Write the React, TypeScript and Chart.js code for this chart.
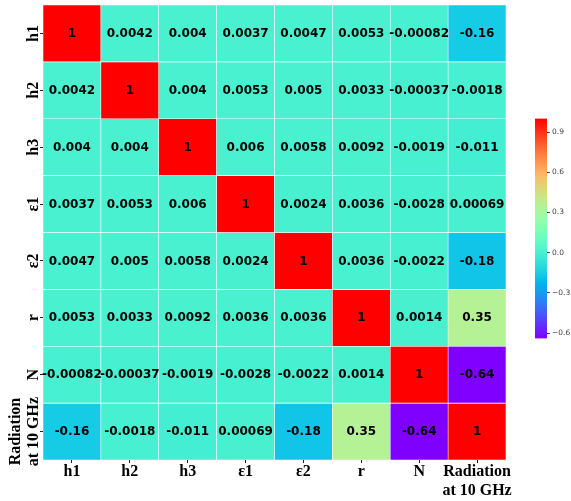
import React, { useEffect, useRef } from "react";
import { Chart, registerables } from "chart.js";
Chart.register(...registerables);

const labels = ["h1", "h2", "h3", "ε1", "ε2", "r", "N", "Radiation\nat 10 GHz"];
const rowH1 = [1, 0.0042, 0.004, 0.0037, 0.0047, 0.0053, -0.00082, -0.16];
const rowH2 = [0.0042, 1, 0.004, 0.0053, 0.005, 0.0033, -0.00037, -0.0018];
const rowH3 = [0.004, 0.004, 1, 0.006, 0.0058, 0.0092, -0.0019, -0.011];
const rowE1 = [0.0037, 0.0053, 0.006, 1, 0.0024, 0.0036, -0.0028, 0.00069];
const rowE2 = [0.0047, 0.005, 0.0058, 0.0024, 1, 0.0036, -0.0022, -0.18];
const rowR = [0.0053, 0.0033, 0.0092, 0.0036, 0.0036, 1, 0.0014, 0.35];
const rowN = [-0.00082, -0.00037, -0.0019, -0.0028, -0.0022, 0.0014, 1, -0.64];
const rowRad = [-0.16, -0.0018, -0.011, 0.00069, -0.18, 0.35, -0.64, 1];
const matrix = [rowH1, rowH2, rowH3, rowE1, rowE2, rowR, rowN, rowRad];
const vmin = -0.64;
const vmax = 1;
const cbarTicks = [-0.6, -0.3, 0, 0.3, 0.6, 0.9];

function rainbow(v: number) {
  const x = Math.min(1, Math.max(0, (v - vmin) / (vmax - vmin)));
  const r = Math.min(1, Math.abs(2 * x - 0.5));
  const g = Math.min(1, Math.max(0, Math.sin(Math.PI * x)));
  const b = Math.min(1, Math.max(0, Math.cos((Math.PI * x) / 2)));
  return `rgb(${Math.round(r * 255)},${Math.round(g * 255)},${Math.round(b * 255)})`;
}

const fmt = (v: number) => String(parseFloat(v.toPrecision(2)));

const labelPlugin = {
  id: "heatLabels",
  afterDatasetsDraw(chart: any) {
    const ctx = chart.ctx;
    ctx.save();
    ctx.font = "bold 12px 'DejaVu Sans'";
    ctx.fillStyle = "#000";
    ctx.textAlign = "center";
    ctx.textBaseline = "middle";
    chart.data.datasets.forEach((ds: any, i: number) => {
      const meta = chart.getDatasetMeta(i);
      meta.data.forEach((el: any, j: number) => {
        const p = el.getProps(["x", "y", "base"], true);
        ctx.fillText(fmt(matrix[i][j]), p.x, (p.y + p.base) / 2 + 0.5);
      });
    });
    const xs = chart.scales.x;
    const ys = chart.scales.y;
    const area = chart.chartArea;
    ctx.font = "bold 16px 'Liberation Serif'";
    ctx.textBaseline = "alphabetic";
    ctx.textAlign = "center";
    labels.forEach((lab, k) => {
      const lines = lab.split("\n");
      const px = xs.getPixelForValue(k);
      lines.forEach((ln, li) => {
        ctx.fillText(ln, px, area.bottom + 16 + li * 19);
      });
    });
    labels.forEach((lab, k) => {
      const lines = lab.split("\n");
      const py = ys.getPixelForValue(k + 0.5);
      const n = lines.length;
      lines.forEach((ln, li) => {
        ctx.save();
        ctx.translate(area.left - 5 - (n - 1 - li) * 18, py);
        ctx.rotate(-Math.PI / 2);
        ctx.fillText(ln, 0, 0);
        ctx.restore();
      });
    });
    ctx.restore();
  },
};

export default function App() {
  const mainRef = useRef<HTMLCanvasElement>(null);
  const cbRef = useRef<HTMLCanvasElement>(null);

  useEffect(() => {
    const c1 = new Chart(mainRef.current as HTMLCanvasElement, {
      type: "bar",
      data: {
        labels: labels,
        datasets: matrix.map((row, i) => ({
          label: labels[i],
          data: row.map(() => 1),
          backgroundColor: row.map((v) => rainbow(v)),
          borderColor: "#ffffff",
          borderWidth: 0.6,
          borderSkipped: false,
          barPercentage: 1,
          categoryPercentage: 1,
        })),
      },
      options: {
        animation: false,
        responsive: false,
        maintainAspectRatio: false,
        events: [],
        layout: { padding: { left: 0, top: 5, right: 14, bottom: 0 } },
        plugins: { legend: { display: false }, tooltip: { enabled: false } },
        scales: {
          x: {
            type: "category",
            stacked: true,
            offset: true,
            grid: { offset: false, drawOnChartArea: false, drawTicks: true, tickLength: 3, color: "#222", lineWidth: 1 },
            border: { display: false },
            ticks: { display: false },
            afterFit: (s: any) => {
              s.height = 41;
            },
          },
          y: {
            type: "linear",
            stacked: true,
            reverse: true,
            min: 0,
            max: 8,
            grid: { drawOnChartArea: false, drawTicks: true, tickLength: 3, color: "#222", lineWidth: 1 },
            border: { display: false },
            ticks: { display: false },
            afterBuildTicks: (s: any) => {
              s.ticks = labels.map((_, k) => ({ value: k + 0.5 }));
            },
            afterFit: (s: any) => {
              s.width = 43;
            },
          },
        },
      } as any,
      plugins: [labelPlugin],
    });

    const c2 = new Chart(cbRef.current as HTMLCanvasElement, {
      type: "bar",
      data: {
        labels: ["cbar"],
        datasets: [
          {
            data: [[vmin, vmax]] as any,
            backgroundColor: (c: any) => {
              const ch = c.chart;
              const ys = ch.scales && ch.scales.y;
              if (!ys || !ch.chartArea) return "#ff0000";
              const y0 = ys.getPixelForValue(vmin);
              const y1 = ys.getPixelForValue(vmax);
              const g = ch.ctx.createLinearGradient(0, y0, 0, y1);
              for (let i = 0; i <= 32; i++) {
                const t = i / 32;
                g.addColorStop(t, rainbow(vmin + t * (vmax - vmin)));
              }
              return g;
            },
            borderWidth: 0,
            barPercentage: 1,
            categoryPercentage: 1,
          },
        ],
      },
      options: {
        animation: false,
        responsive: false,
        maintainAspectRatio: false,
        events: [],
        layout: { padding: { left: 15, top: 18.6, right: 0, bottom: 21.6 } },
        plugins: { legend: { display: false }, tooltip: { enabled: false } },
        scales: {
          x: { display: false },
          y: {
            position: "right",
            min: vmin,
            max: vmax,
            grid: { drawOnChartArea: false, drawTicks: true, tickLength: 3, color: "#444" },
            border: { display: false },
            ticks: {
              padding: 2,
              color: "#444",
              font: { family: "'DejaVu Sans'", size: 7.5 },
              callback: (v: any) => {
                const n = Number(v);
                return n < 0 ? "\u2212" + Math.abs(n).toFixed(1) : n.toFixed(1);
              },
            },
            afterBuildTicks: (s: any) => {
              s.ticks = cbarTicks.map((v) => ({ value: v }));
            },
            afterFit: (s: any) => {
              s.width = 24;
            },
          },
        },
      } as any,
    });

    return () => {
      c1.destroy();
      c2.destroy();
    };
  }, []);

  return (
    <div style={{ position: "absolute", left: 0, top: 0, width: 571, height: 501, background: "#ffffff" }}>
      <canvas ref={mainRef} width={520} height={501} style={{ position: "absolute", left: 0, top: 0 }} />
      <canvas ref={cbRef} width={51} height={260} style={{ position: "absolute", left: 520, top: 100 }} />
    </div>
  );
}
